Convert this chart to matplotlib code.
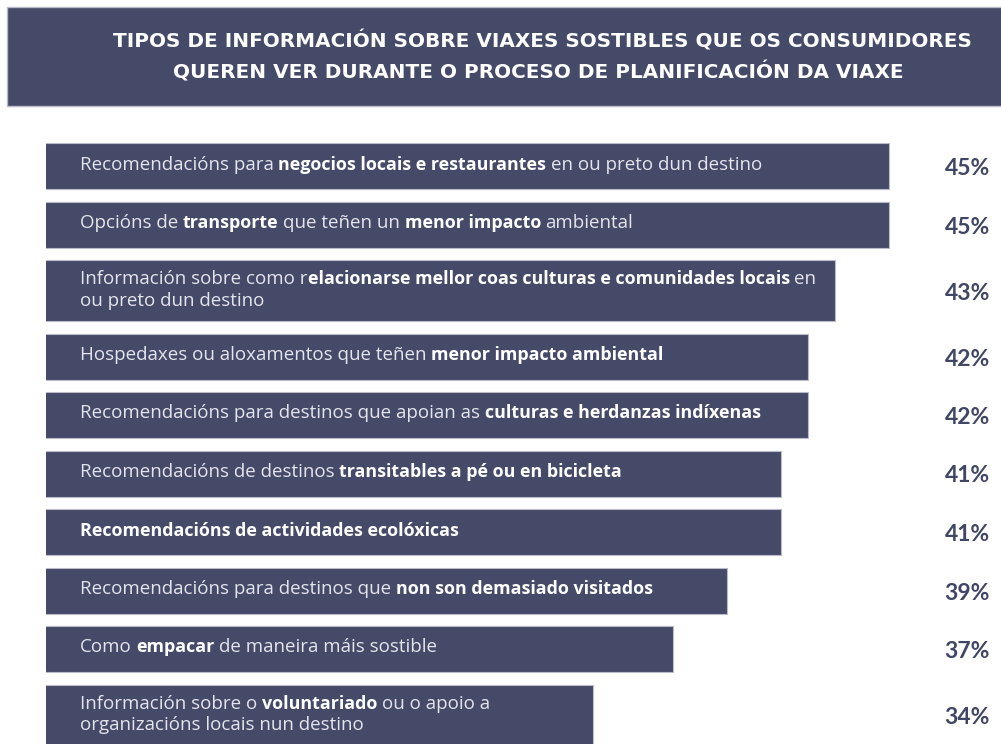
import matplotlib
matplotlib.use("Agg")
import matplotlib.pyplot as plt
from matplotlib.patches import Rectangle

# ---------------- data ----------------
title_lines = [
    "TIPOS DE INFORMACIÓN SOBRE VIAXES SOSTIBLES QUE OS CONSUMIDORES",
    "QUEREN VER DURANTE O PROCESO DE PLANIFICACIÓN DA VIAXE",
]
values = [45, 45, 43, 42, 42, 41, 41, 39, 37, 34]
value_labels = ["45%", "45%", "43%", "42%", "42%", "41%", "41%", "39%", "37%", "34%"]
# each label: list of lines, each line: list of (text, bold, space_before)
labels = [
    [[("Recomendacións para", False, False), ("negocios locais e restaurantes", True, True),
      ("en ou preto dun destino", False, True)]],
    [[("Opcións de", False, False), ("transporte", True, True), ("que teñen un", False, True),
      ("menor impacto", True, True), ("ambiental", False, True)]],
    [[("Información sobre como r", False, False),
      ("elacionarse mellor coas culturas e comunidades locais", True, False), ("en", False, True)],
     [("ou preto dun destino", False, False)]],
    [[("Hospedaxes ou aloxamentos que teñen", False, False), ("menor impacto ambiental", True, True)]],
    [[("Recomendacións para destinos que apoian as", False, False),
      ("culturas e herdanzas indíxenas", True, True)]],
    [[("Recomendacións de destinos", False, False), ("transitables a pé ou en bicicleta", True, True)]],
    [[("Recomendacións de actividades ecolóxicas", True, False)]],
    [[("Recomendacións para destinos que", False, False), ("non son demasiado visitados", True, True)]],
    [[("Como", False, False), ("empacar", True, True), ("de maneira máis sostible", False, True)]],
    [[("Información sobre o", False, False), ("voluntariado", True, True), ("ou o apoio a", False, True)],
     [("organizacións locais nun destino", False, False)]],
]

# ---------------- style ----------------
W, H = 1001, 744
BAR = "#464a69"
EDGE = "#b9bbc9"
TXT = "#e4e5ec"
PCT = "#424665"
label_family = ["Open Sans", "DejaVu Sans"]
size_regular = 13.5
size_bold = 12.9

fig = plt.figure(figsize=(W / 100, H / 100), dpi=100)
fig.patch.set_facecolor("white")

# header box
fig.patches.append(Rectangle((7 / W, 1 - 106 / H), 1.0, 99 / H, transform=fig.transFigure,
                             facecolor=BAR, edgecolor=EDGE, linewidth=1.0))
title_centers = [542.5, 538]
for i, line in enumerate(title_lines):
    fig.text(title_centers[i] / W, 1 - (47.5 + i * 31) / H, line, ha="center", va="baseline",
             color="white", fontsize=14.4, fontweight="bold", family=["DejaVu Sans"])

# bars axes: x in percent, y in pixel rows (top down)
x_left_px = 46
px_per_pct = 26.9
x0 = 13.68
ax = fig.add_axes([x_left_px / W, 0, (W - x_left_px) / W, 1])
ax.set_xlim(x0, x0 + (W - x_left_px) / px_per_pct)
ax.set_ylim(H, 0)
ax.axis("off")

# row layout (stacked)
top = 143.0
gap = 12.5
tops, heights = [], []
for lab in labels:
    h = 46.0 if len(lab) == 1 else 61.0
    tops.append(top)
    heights.append(h)
    top += h + gap
centers = [t + h / 2 for t, h in zip(tops, heights)]

ax.barh(centers, values, height=heights, color=BAR, edgecolor=EDGE, linewidth=0.8)

space_px = 4.6
for r, lab in enumerate(labels):
    if len(lab) == 1:
        baselines = [tops[r] + 26.5]
    else:
        baselines = [tops[r] + 24.5, tops[r] + 46.0]
    for li, line in enumerate(lab):
        prev = None
        for text, bold, sp in line:
            kw = dict(fontsize=size_bold if bold else size_regular, family=label_family,
                      va="baseline", ha="left",
                      fontweight="bold" if bold else "normal",
                      color="white" if bold else TXT, annotation_clip=False)
            if prev is None:
                prev = ax.annotate(text, xy=(80, baselines[li]),
                                   xycoords=("figure pixels", "data"), **kw)
            else:
                prev = ax.annotate(text, xy=(1, baselines[li]), xycoords=(prev, "data"),
                                   xytext=(space_px if sp else 0, 0), textcoords="offset pixels",
                                   **kw)
    ax.annotate(value_labels[r], xy=(990, centers[r] + 9), xycoords=("figure pixels", "data"),
                ha="right", va="baseline", fontsize=16.5, fontweight="bold",
                family=["Lato", "DejaVu Sans"], color=PCT, annotation_clip=False)

fig.savefig("out.png", dpi=100, facecolor="white")
